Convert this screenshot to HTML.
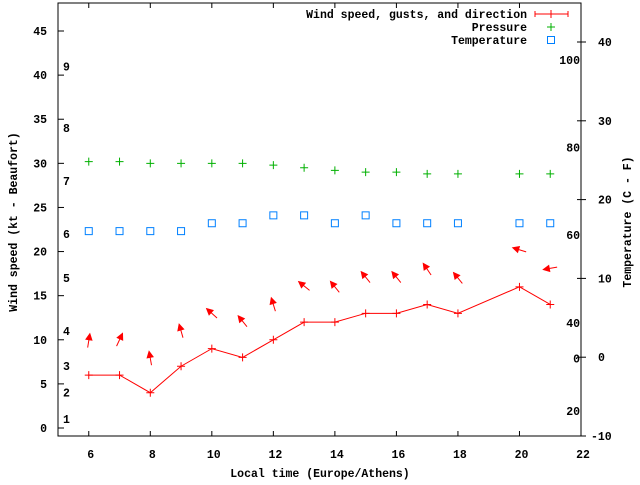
<!DOCTYPE html>
<html><head><meta charset="utf-8"><style>
body{margin:0;background:#fff}
svg text{font-family:"Liberation Mono",monospace;font-size:11.5px;font-weight:bold;fill:#000}
</style></head><body>
<svg id="c" width="640" height="480" viewBox="0 0 640 480" xmlns="http://www.w3.org/2000/svg">
<rect x="0" y="0" width="640" height="480" fill="#fff"/>
</svg>
<script>
const hours=[6,7,8,9,10,11,12,13,14,15,16,17,18,20,21];
const windSpeed=[6,6,4,7,9,8,10,12,12,13,13,14,13,16,14];
const gusts=[9.9,10,7.9,11,13,12.1,14,16.1,16,17.1,17.1,18,17,20.2,18.1];
const windDir=[9,25,350,344,312,321,343,309,321,321,321,326,321,287,260];
const pressure=[30.2,30.2,30,30,30,30,29.8,29.5,29.2,29,29,28.8,28.8,28.8,28.8];
const tempC=[16,16,16,16,17,17,18,18,17,18,17,17,17,17,17];
const xTicks=[6,8,10,12,14,16,18,20,22];
const yTicks=[0,5,10,15,20,25,30,35,40,45];
const y2Ticks=[-10,0,10,20,30,40];
const beaufortLabels=["1","2","3","4","5","6","7","8","9"];
const beaufortKt=[1.0,4.0,7.0,11.0,17.0,22.0,28.0,34.0,41.0];
const fLabels=["100","80","60","40","0","20"];
const fKt=[41.7,31.8,21.9,11.9,7.9,1.9];

const L=58,R=581,T=3,B=436;
const X=v=>L+(v-5)*(R-L)/17;
const Y=v=>428-v*8.822;
const Y2=v=>436-(v+10)*7.88;
const svg=document.getElementById('c');
const NS='http://www.w3.org/2000/svg';
function mk(tag,a,txt){const e=document.createElementNS(NS,tag);for(const k in a)e.setAttribute(k,a[k]);if(txt!==undefined)e.textContent=txt;svg.appendChild(e);return e;}

// ticks & labels
xTicks.forEach(t=>{
 let e=mk('line',{x1:X(t),x2:X(t),y1:B,y2:B-5,stroke:'#000'});
 
 
 e=mk('line',{x1:X(t),x2:X(t),y1:T,y2:T+5,stroke:'#000'});
 
 
 e=mk('text',{x:X(t)+2,y:458,'text-anchor':'middle'},String(t));
 
 
});
yTicks.forEach(t=>{
 let e=mk('line',{x1:L,x2:L+6,y1:Y(t),y2:Y(t),stroke:'#000'});
 
 
 e=mk('text',{x:47,y:Y(t)+4,'text-anchor':'end'},String(t));
 
 
});
y2Ticks.forEach(t=>{
 let e=mk('line',{x1:R-4,x2:R+5,y1:Y2(t),y2:Y2(t),stroke:'#000'});
 
 
 e=mk('text',{x:t<0?591:598,y:Y2(t)+4},String(t));
 
 
});
beaufortLabels.forEach((s,i)=>{
 const e=mk('text',{x:63,y:Y(beaufortKt[i])+4},s);
 
 
});
fLabels.forEach((s,i)=>{
 const e=mk('text',{x:580,y:Y(fKt[i])+4,'text-anchor':'end'},s);
 
 
});

let e=mk('rect',{x:L,y:T,width:R-L,height:B-T,fill:'none',stroke:'#000'});



e=mk('text',{x:320,y:477,'text-anchor':'middle'},'Local time (Europe/Athens)');


e=mk('text',{x:0,y:0,'text-anchor':'middle',transform:'translate(17,222) rotate(-90)'},'Wind speed (kt - Beaufort)');


e=mk('text',{x:0,y:0,'text-anchor':'middle',transform:'translate(631,222) rotate(-90)'},'Temperature (C - F)');



// wind line
e=mk('polyline',{points:hours.map((h,i)=>X(h)+','+Y(windSpeed[i])).join(' '),fill:'none',stroke:'#f00'});


function plus(cx,cy,col,name){
 const g=mk('path',{d:`M${cx-4},${cy}h8M${cx},${cy-4}v8`,stroke:col,fill:'none'});
 
 
}
hours.forEach((h,i)=>plus(X(h),Y(windSpeed[i]),'#f00','wind-speed-point'));
// gust arrows
hours.forEach((h,i)=>{
 const a=windDir[i]*Math.PI/180, len=14;
 const dx=Math.sin(a)*len/2, dy=-Math.cos(a)*len/2;
 const cx=X(h), cy=Y(gusts[i]);
 const x1=cx-dx,y1=cy-dy,x2=cx+dx,y2=cy+dy;
 const ux=dx/(len/2),uy=dy/(len/2);
 const hx=x2-ux*6,hy=y2-uy*6;
 const p=mk('path',{d:`M${x1},${y1}L${x2},${y2}M${x2},${y2}L${hx-uy*3},${hy+ux*3}L${hx+uy*3},${hy-ux*3}Z`,stroke:'#f00',fill:'#f00','stroke-width':1});
 
 
});
hours.forEach((h,i)=>plus(X(h),Y(pressure[i]),'#00b000','pressure-point'));
hours.forEach((h,i)=>{
 const r=mk('rect',{x:X(h)-3.5,y:Y2(tempC[i])-3.5,width:7,height:7,fill:'none',stroke:'#0080ff'});
 
 
});

// legend
const leg=[['Wind speed, gusts, and direction',14],['Pressure',27],['Temperature',40]];
leg.forEach((l,i)=>{
 const t=mk('text',{x:527,y:l[1]+4,'text-anchor':'end'},l[0]);
 
 
});
e=mk('path',{d:'M535,14h33M535,11v6M568,11v6M551,10v8',stroke:'#f00',fill:'none'});


plus(551,27,'#00b000','legend-pressure-sample');
e=mk('rect',{x:547.5,y:36.5,width:7,height:7,fill:'none',stroke:'#0080ff'});


</script>
</body></html>
